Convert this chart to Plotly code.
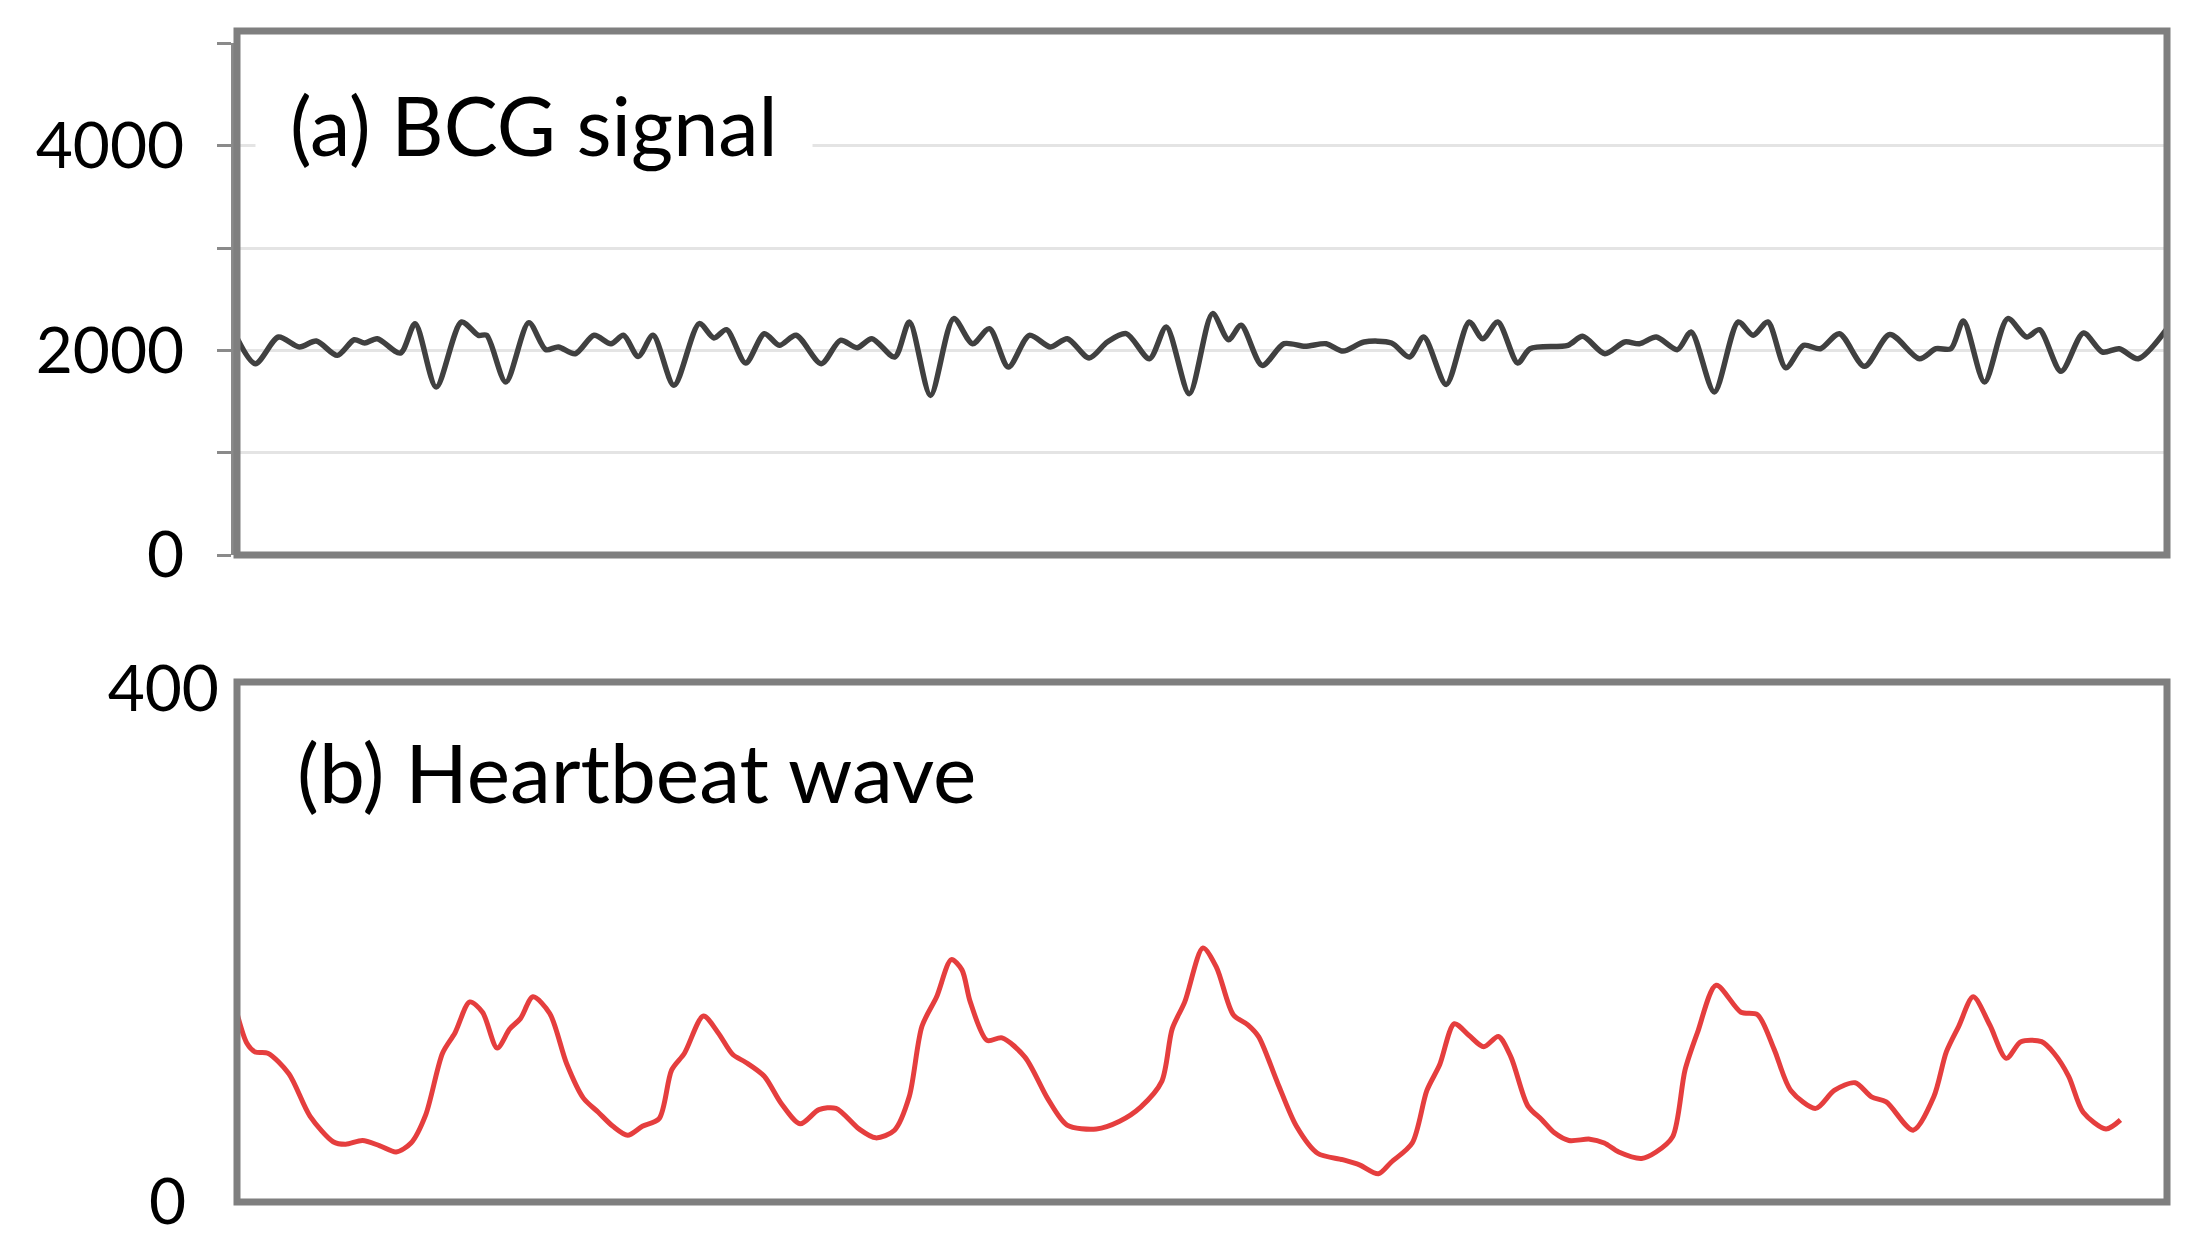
import plotly.graph_objects as go

# ---------------- data (time in s) ----------------
t_bcg = [0.000, 0.110, 0.230, 0.338, 0.426, 0.534, 0.622, 0.676, 0.741, 0.861,
         0.937, 1.046, 1.177, 1.264, 1.307, 1.406, 1.525, 1.613, 1.678, 1.765,
         1.863, 1.950, 2.015, 2.091, 2.168, 2.276, 2.407, 2.483, 2.548, 2.647,
         2.744, 2.821, 2.908, 3.038, 3.137, 3.223, 3.300, 3.418, 3.494, 3.603,
         3.723, 3.821, 3.908, 4.006, 4.115, 4.224, 4.311, 4.424, 4.518, 4.616,
         4.736, 4.823, 4.942, 5.062, 5.145, 5.210, 5.319, 5.432, 5.541, 5.650,
         5.737, 5.846, 5.988, 6.081, 6.155, 6.271, 6.390, 6.460, 6.538, 6.641,
         6.705, 6.901, 6.977, 7.092, 7.195, 7.271, 7.358, 7.467, 7.538, 7.658,
         7.782, 7.859, 7.935, 8.028, 8.120, 8.207, 8.305, 8.435, 8.566, 8.719,
         8.805, 8.882, 8.947, 9.056, 9.176, 9.274, 9.340, 9.452, 9.568, 9.666,
         9.753, 9.851, 10.000]
v_bcg = [2179, 1870, 2130, 2033, 2091, 1951, 2104, 2072, 2114, 1974,
         2261, 1641, 2277, 2147, 2147, 1690, 2271, 2007, 2033, 1967,
         2147, 2065, 2147, 1941, 2147, 1658, 2261, 2121, 2202, 1876,
         2163, 2049, 2147, 1870, 2098, 2026, 2114, 1935, 2277, 1560,
         2310, 2065, 2212, 1837, 2147, 2033, 2114, 1925, 2082, 2163,
         1918, 2228, 1576, 2359, 2104, 2245, 1853, 2065, 2039, 2065,
         1993, 2082, 2072, 1935, 2130, 1667, 2277, 2114, 2277, 1876,
         2016, 2049, 2137, 1967, 2082, 2065, 2130, 2007, 2179, 1593,
         2277, 2147, 2277, 1830, 2049, 2016, 2163, 1844, 2156, 1918,
         2016, 2016, 2287, 1690, 2310, 2130, 2202, 1795, 2170, 1984,
         2016, 1918, 2212]

t_hb = [0.000, 0.066, 0.110, 0.175, 0.284, 0.393, 0.513, 0.578, 0.665, 0.752,
        0.839, 0.916, 0.992, 1.079, 1.144, 1.220, 1.286, 1.362, 1.427, 1.482,
        1.547, 1.634, 1.721, 1.808, 1.885, 1.961, 2.037, 2.113, 2.200, 2.265,
        2.331, 2.429, 2.505, 2.581, 2.647, 2.744, 2.831, 2.930, 3.027, 3.115,
        3.234, 3.321, 3.418, 3.494, 3.560, 3.636, 3.712, 3.767, 3.810, 3.897,
        3.974, 4.093, 4.213, 4.311, 4.463, 4.583, 4.692, 4.801, 4.855, 4.920,
        5.014, 5.084, 5.171, 5.248, 5.302, 5.400, 5.498, 5.607, 5.737, 5.824,
        5.922, 5.988, 6.097, 6.173, 6.239, 6.315, 6.390, 6.467, 6.543, 6.608,
        6.695, 6.769, 6.833, 6.908, 7.016, 7.091, 7.166, 7.284, 7.359, 7.445,
        7.509, 7.573, 7.670, 7.798, 7.884, 7.970, 8.056, 8.185, 8.281, 8.389,
        8.474, 8.550, 8.689, 8.796, 8.861, 8.925, 9.000, 9.086, 9.171, 9.247,
        9.354, 9.418, 9.494, 9.569, 9.687, 9.762]
v_hb = [156, 124, 117, 116, 100, 67, 47, 45, 48, 44,
        39, 46, 68, 116, 132, 156, 148, 120, 135, 143,
        160, 147, 108, 81, 70, 59, 52, 59, 65, 103,
        116, 145, 132, 115, 109, 98, 77, 61, 72, 73,
        57, 50, 56, 82, 137, 160, 189, 181, 156, 126,
        128, 113, 80, 60, 57, 63, 74, 94, 135, 156,
        198, 183, 146, 138, 129, 93, 59, 38, 33, 29,
        22, 31, 46, 87, 107, 139, 130, 121, 129, 113,
        75, 64, 54, 48, 49, 46, 39, 34, 39, 51,
        103, 132, 169, 148, 146, 119, 87, 73, 87, 93,
        82, 78, 56, 82, 117, 137, 160, 138, 112, 125,
        125, 116, 98, 70, 57, 64]

top_ticks = [0, 1000, 2000, 3000, 4000, 5000]
top_labels = ["0", "", "2000", "", "4000", ""]
bot_ticks = [0, 400]
bot_labels = ["0\u00a0\u00a0", "400"]

W, H = 2196, 1257
OFF = 8  # page body margin
FONT = "Lato, 'Open Sans', sans-serif"
FRAME = "#7f7f7f"
GRID = "#e4e4e4"


def px(x):
    return (x - OFF) / W


def py(y):
    return 1 - (y - OFF) / H


fig = go.Figure()
fig.add_trace(go.Scatter(x=t_bcg, y=v_bcg, mode="lines", xaxis="x", yaxis="y",
                         line=dict(color="#404040", width=5.5, shape="spline", smoothing=0.8),
                         showlegend=False, hoverinfo="skip"))
fig.add_trace(go.Scatter(x=t_hb, y=v_hb, mode="lines", xaxis="x2", yaxis="y2",
                         line=dict(color="#e53e3e", width=5, shape="spline", smoothing=0.8),
                         showlegend=False, hoverinfo="skip"))

xcommon = dict(showgrid=False, zeroline=False, showticklabels=False, ticks="",
               showline=False, fixedrange=True, automargin=False)
fig.update_layout(
    width=W, height=H,
    margin=dict(l=0, r=0, t=0, b=0, pad=0, autoexpand=False),
    paper_bgcolor="white", plot_bgcolor="white",
    font=dict(family=FONT, color="black"),
    xaxis=dict(domain=[px(234), px(2167)], range=[0, 10], anchor="y", **xcommon),
    yaxis=dict(domain=[py(555), py(43.4)], range=[0, 5000], anchor="x",
               automargin=False,
               tickvals=top_ticks, ticktext=top_labels,
               showgrid=True, gridcolor=GRID, gridwidth=3, zeroline=False,
               ticks="outside", ticklen=14, tickwidth=3, tickcolor="#8a8a8a",
               showline=True, linecolor="#8a8a8a", linewidth=3,
               ticklabelstandoff=20,
               tickfont=dict(family=FONT, size=64, color="black")),
    xaxis2=dict(domain=[px(234), px(2122)], range=[0, 9.77], anchor="y2", **xcommon),
    yaxis2=dict(domain=[py(1202), py(689)], range=[0, 400], anchor="x2",
                automargin=False,
                tickvals=bot_ticks, ticktext=bot_labels,
                showgrid=True, gridcolor=GRID, gridwidth=3, zeroline=False,
                ticks="", showline=False,
                ticklabelstandoff=14,
                tickfont=dict(family=FONT, size=64, color="black")),
)

# picture frames around each panel
fig.add_shape(type="rect", xref="paper", yref="paper",
              x0=px(237), x1=px(2167), y0=py(555), y1=py(31),
              line=dict(color=FRAME, width=7), layer="above")
fig.add_shape(type="rect", xref="paper", yref="paper",
              x0=px(237), x1=px(2167), y0=py(1202), y1=py(682),
              line=dict(color=FRAME, width=7), layer="above")

fig.add_annotation(text="(a) BCG signal", xref="paper", yref="paper",
                   x=px(291 - 36), y=py(124), xanchor="left", yanchor="middle",
                   showarrow=False, bgcolor="white", borderpad=34,
                   font=dict(family=FONT, size=81, color="black"))
fig.add_annotation(text="(b) Heartbeat wave", xref="paper", yref="paper",
                   x=px(295), y=py(771), xanchor="left", yanchor="middle",
                   showarrow=False,
                   font=dict(family=FONT, size=82, color="black"))

fig.write_html("out.html")
